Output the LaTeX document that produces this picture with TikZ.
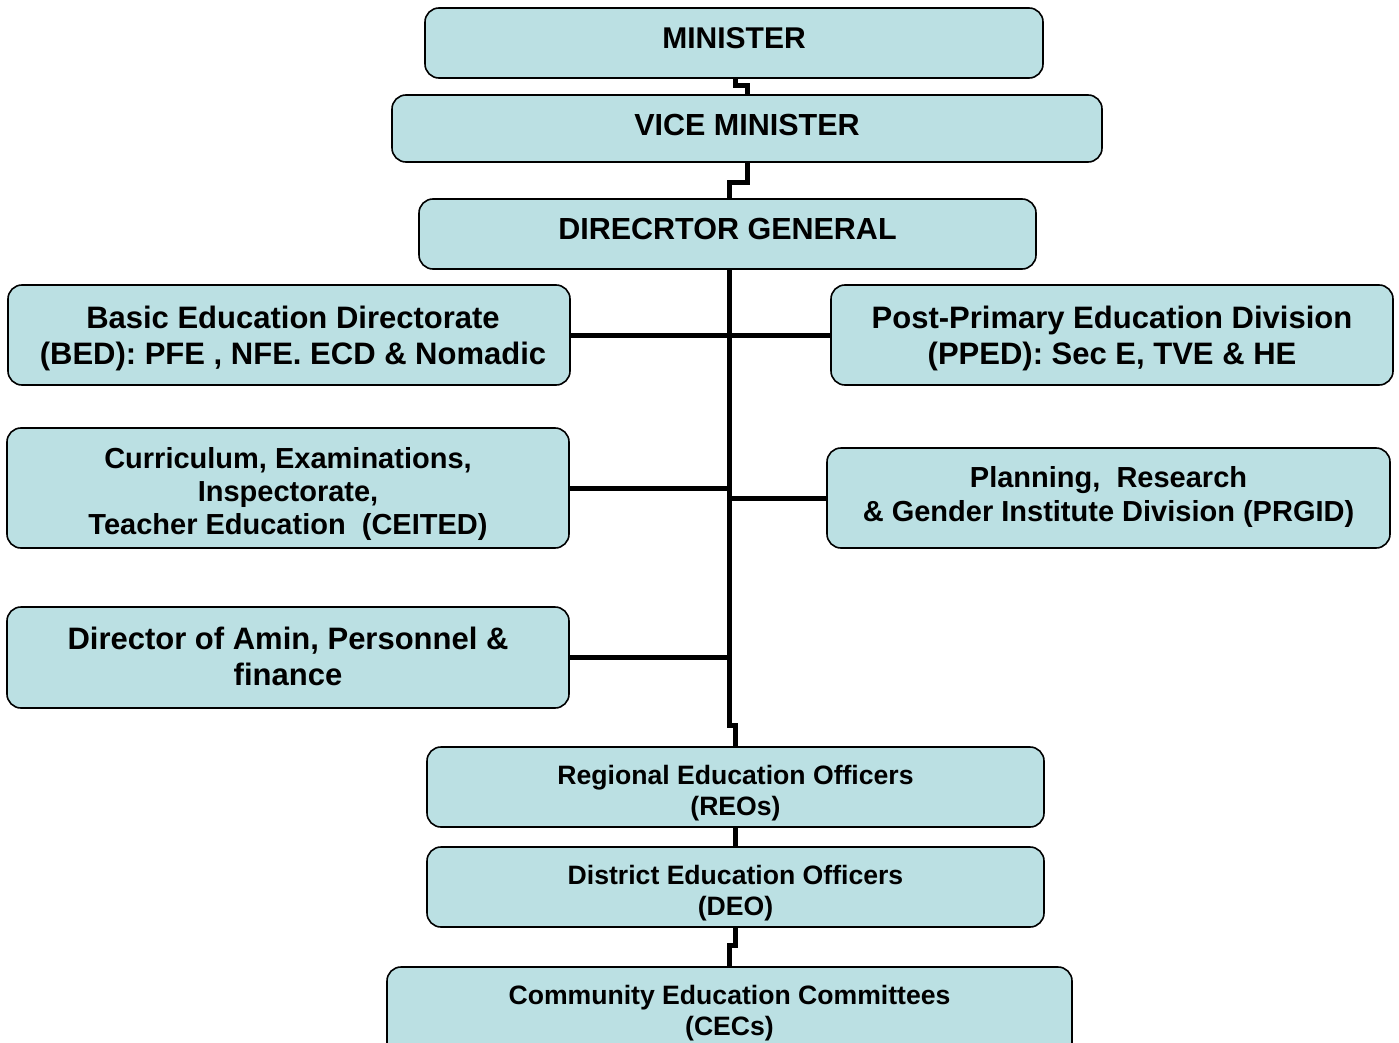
\documentclass[tikz,border=0pt]{standalone}
\usepackage{fontspec}
\setmainfont{Liberation Sans}
\usetikzlibrary{calc}
\usetikzlibrary{positioning}
\usepackage{xcolor}
\definecolor{boxblue}{RGB}{187,224,227}
\newcommand{\fs}[2]{\fontsize{#1}{#2}\selectfont}
\tikzset{
 orgbox/.style={draw=black, line width=1.6, fill=boxblue, rounded corners=14, inner sep=0},
 txt/.style 2 args={font=\bfseries\fs{#1}{#2}, align=center, inner sep=0},
 link/.style={black, line width=5},
}

\begin{document}
\begin{tikzpicture}[x=1pt, y=-1pt]
\useasboundingbox (0,0) rectangle (1399,1043);
% boxes
\node[orgbox, minimum width=618, minimum height=70] (min) at (734,43) {};
\node[orgbox, minimum width=710, minimum height=67] (vice) at (747,128.5) {};
\node[orgbox, minimum width=617, minimum height=70] (dg) at (727.5,234) {};
\node[orgbox, minimum width=562, minimum height=100] (bed) at (289,335) {};
\node[orgbox, minimum width=562, minimum height=100] (pped) at (1112,335) {};
\node[orgbox, minimum width=562, minimum height=120] (ceit) at (288,488) {};
\node[orgbox, minimum width=563, minimum height=100] (prgid) at (1108.5,498) {};
\node[orgbox, minimum width=562, minimum height=101] (dap) at (288,657.5) {};
\node[orgbox, minimum width=617, minimum height=80] (reo) at (735.5,787) {};
\node[orgbox, minimum width=617, minimum height=80] (deo) at (735.5,887) {};
\node[orgbox, minimum width=685, minimum height=92] (cec) at (729.5,1013) {};
% texts
\node[txt={30}{36}] (min-t) at ([yshift=5]min.center) {MINISTER};
\node[txt={30.5}{36}] (vice-t) at ([yshift=3.5]vice.center) {VICE MINISTER};
\node[txt={30.5}{36}] (dg-t) at ([yshift=5]dg.center) {DIRECRTOR GENERAL};
\node[txt={31}{36}] (bed-t) at ([xshift=4,yshift=-3]bed.center) {Basic Education Directorate\\(BED): PFE , NFE. ECD \& Nomadic};
\node[txt={31}{36}] (pped-t) at ([yshift=-3]pped.center) {Post-Primary Education Division\\(PPED): Sec E, TVE \& HE};
\node[txt={29}{33}] (ceit-t) at ([yshift=-6]ceit.center) {Curriculum, Examinations,\\Inspectorate,\\Teacher Education\ \ (CEITED)};
\node[txt={29}{34}] (prgid-t) at ([yshift=1]prgid.center) {Planning,\ \ Research\\\& Gender Institute Division (PRGID)};
\node[txt={31}{36}] (dap-t) at ([yshift=1]dap.center) {Director of Amin, Personnel \&\\finance};
\node[txt={26.6}{31}] (reo-t) at ([yshift=-6]reo.center) {Regional Education Officers\\(REOs)};
\node[txt={26.6}{31}] (deo-t) at ([yshift=-6]deo.center) {District Education Officers\\(DEO)};
\node[txt={26.6}{31}] (cec-t) at (cec.center) {Community Education Committees\\(CECs)};
% connectors
\coordinate (trunk) at ([xshift=1.5]dg.south);
\draw[link] ([xshift=1]min.south) -- ++(0,7) -| (vice.north);
\draw[link] (vice.south) -- ++(0,20) -| ([xshift=1.5]dg.north);
\draw[link] (trunk) -- ++(0,456) -| (reo.north);
\draw[link] (bed.east) -- (pped.west);
\draw[link] (ceit.east) -- (ceit.east -| trunk);
\draw[link] (prgid.west) -- (prgid.west -| trunk);
\draw[link] (dap.east) -- (dap.east -| trunk);
\draw[link] (reo.south) -- (deo.north);
\draw[link] (deo.south) -- ++(0,18) -| (cec.north);
\end{tikzpicture}
\end{document}
